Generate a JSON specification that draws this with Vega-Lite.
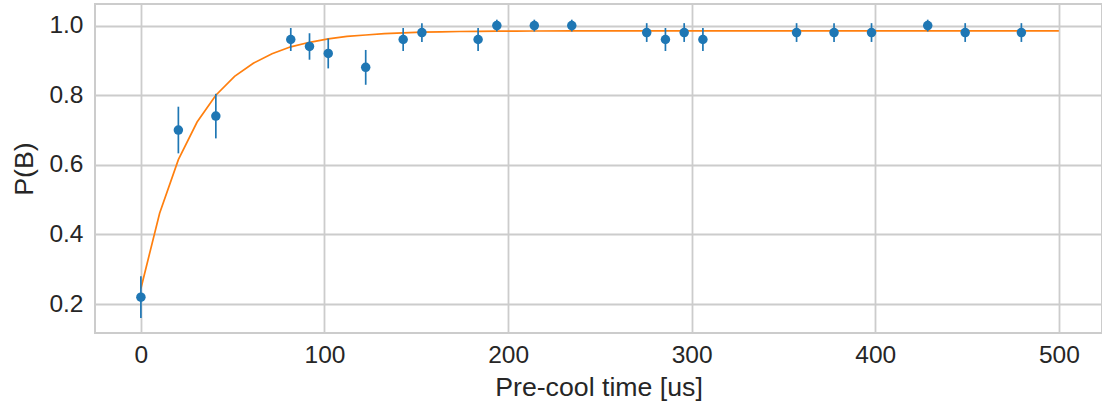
{
  "$schema": "https://vega.github.io/schema/vega-lite/v6.json",
  "width": 1007,
  "height": 329,
  "autosize": {"type": "none"},
  "padding": {"left": 95, "top": 4, "right": 0, "bottom": 75},
  "config": {
    "view": {"stroke": "#cccccc", "strokeWidth": 2},
    "font": "Liberation Sans",
    "axis": {
      "grid": true, "gridColor": "#cccccc", "gridWidth": 1.8,
      "domain": false, "ticks": false,
      "labelFontSize": 24.5, "labelColor": "#262626", "labelFont": "Liberation Sans",
      "titleFontSize": 26.7, "titleColor": "#262626", "titleFontWeight": "normal", "titleFont": "Liberation Sans"
    }
  },
  "datasets": {
    "obs": [
      {"t": 0, "p": 0.22, "lo": 0.16, "hi": 0.28},
      {"t": 20.41, "p": 0.70, "lo": 0.633, "hi": 0.767},
      {"t": 40.82, "p": 0.74, "lo": 0.676, "hi": 0.804},
      {"t": 81.63, "p": 0.96, "lo": 0.927, "hi": 0.993},
      {"t": 91.84, "p": 0.94, "lo": 0.902, "hi": 0.978},
      {"t": 102.04, "p": 0.92, "lo": 0.877, "hi": 0.963},
      {"t": 122.45, "p": 0.88, "lo": 0.83, "hi": 0.93},
      {"t": 142.86, "p": 0.96, "lo": 0.927, "hi": 0.993},
      {"t": 153.06, "p": 0.98, "lo": 0.953, "hi": 1.007},
      {"t": 183.67, "p": 0.96, "lo": 0.927, "hi": 0.993},
      {"t": 193.88, "p": 1.00, "lo": 0.983, "hi": 1.017},
      {"t": 214.29, "p": 1.00, "lo": 0.983, "hi": 1.017},
      {"t": 234.69, "p": 1.00, "lo": 0.983, "hi": 1.017},
      {"t": 275.51, "p": 0.98, "lo": 0.953, "hi": 1.007},
      {"t": 285.71, "p": 0.96, "lo": 0.927, "hi": 0.993},
      {"t": 295.92, "p": 0.98, "lo": 0.953, "hi": 1.007},
      {"t": 306.12, "p": 0.96, "lo": 0.927, "hi": 0.993},
      {"t": 357.14, "p": 0.98, "lo": 0.953, "hi": 1.007},
      {"t": 377.55, "p": 0.98, "lo": 0.953, "hi": 1.007},
      {"t": 397.96, "p": 0.98, "lo": 0.953, "hi": 1.007},
      {"t": 428.57, "p": 1.00, "lo": 0.983, "hi": 1.017},
      {"t": 448.98, "p": 0.98, "lo": 0.953, "hi": 1.007},
      {"t": 479.59, "p": 0.98, "lo": 0.953, "hi": 1.007}
    ],
    "fit": [
      {"t": 0, "p": 0.245},
      {"t": 10.2, "p": 0.461},
      {"t": 20.41, "p": 0.615},
      {"t": 30.61, "p": 0.723},
      {"t": 40.82, "p": 0.800},
      {"t": 51.02, "p": 0.854},
      {"t": 61.22, "p": 0.892},
      {"t": 71.43, "p": 0.919},
      {"t": 81.63, "p": 0.939},
      {"t": 91.84, "p": 0.952},
      {"t": 102.04, "p": 0.962},
      {"t": 112.24, "p": 0.969},
      {"t": 122.45, "p": 0.973},
      {"t": 132.65, "p": 0.977},
      {"t": 142.86, "p": 0.979},
      {"t": 153.06, "p": 0.981},
      {"t": 163.27, "p": 0.982},
      {"t": 173.47, "p": 0.983},
      {"t": 183.67, "p": 0.9835},
      {"t": 193.88, "p": 0.984},
      {"t": 204.08, "p": 0.9843},
      {"t": 214.29, "p": 0.9845},
      {"t": 234.69, "p": 0.9847},
      {"t": 255.1, "p": 0.9849},
      {"t": 300, "p": 0.985},
      {"t": 400, "p": 0.985},
      {"t": 500, "p": 0.985}
    ]
  },
  "layer": [
    {
      "data": {"name": "fit"},
      "mark": {"type": "line", "color": "#ff7f0e", "strokeWidth": 1.7},
      "encoding": {
        "x": {"field": "t", "type": "quantitative", "title": "Pre-cool time [us]",
              "scale": {"domain": [-25, 523.5], "nice": false, "zero": false},
              "axis": {"values": [0, 100, 200, 300, 400, 500], "labelPadding": 10, "titlePadding": 8}},
        "y": {"field": "p", "type": "quantitative", "title": "P(B)",
              "scale": {"domain": [0.117, 1.062], "nice": false, "zero": false},
              "axis": {"values": [0.2, 0.4, 0.6, 0.8, 1.0], "format": ".1f", "labelPadding": 12, "titlePadding": 10}}
      }
    },
    {
      "data": {"name": "obs"},
      "mark": {"type": "rule", "color": "#1f77b4", "strokeWidth": 1.7},
      "encoding": {
        "x": {"field": "t", "type": "quantitative", "title": "Pre-cool time [us]"},
        "y": {"field": "lo", "type": "quantitative", "title": "P(B)"},
        "y2": {"field": "hi"}
      }
    },
    {
      "data": {"name": "obs"},
      "mark": {"type": "point", "filled": true, "opacity": 1, "color": "#1f77b4", "size": 90},
      "encoding": {
        "x": {"field": "t", "type": "quantitative", "title": "Pre-cool time [us]"},
        "y": {"field": "p", "type": "quantitative", "title": "P(B)"}
      }
    }
  ]
}
